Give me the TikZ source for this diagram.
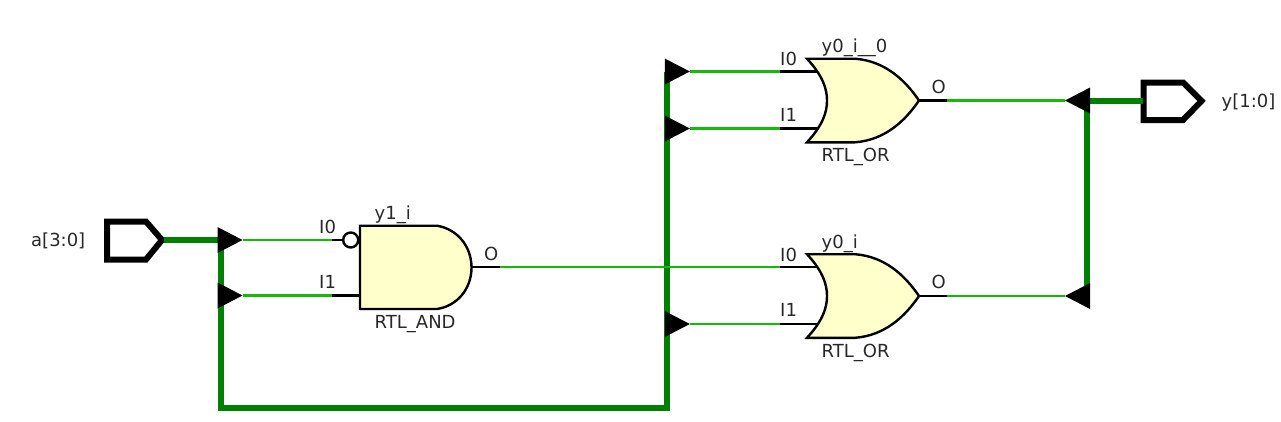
\documentclass[tikz,border=0pt]{standalone}
\usepackage{fontspec}
\setmainfont{DejaVu Sans}
\usetikzlibrary{shapes.geometric}
\definecolor{busGreen}{RGB}{0,128,0}
\definecolor{wireGreen}{RGB}{22,184,10}
\definecolor{gateYellow}{RGB}{255,255,204}
\definecolor{labelGray}{RGB}{40,40,40}

\begin{document}
\begin{tikzpicture}
[x=1pt,y=-1pt,
  busDecorate/.style={-,line width=6pt,color=busGreen},%
  wireDecorate/.style={-,line width=2.2pt,color=wireGreen},
  pinDecorate/.style={-,line width=2.2pt,color=black},
  gateDecorate/.style={line width=2.4pt,draw=black,fill=gateYellow,line join=miter},
  portDecorate/.style={line width=6pt,draw=black,fill=white,line join=miter},
  ripDecorate/.style={shape=isosceles triangle,isosceles triangle stretches,
    minimum width=26pt,minimum height=25pt,inner sep=0pt,outer sep=0pt,fill=black,anchor=lower side},
  textDecorate/.style={anchor=base west,inner sep=0pt,text=labelGray,
    font=\fontsize{18}{20}\selectfont}]
\useasboundingbox (0,0) rectangle (1281,421);
%% or gates
\foreach \gatename/\instname/\dy in {
  orA/y0\_i\_\_0/0,
  orB/y0\_i/195.5}
{
  \begin{scope}[shift={(0,\dy)}]
    \coordinate (\gatename i0) at (780,71.5);
    \coordinate (\gatename i1) at (780,128.5);
    \coordinate (\gatename tip) at (919,100.5);
    \coordinate (\gatename o) at (947,100.5);
    \draw[pinDecorate] (\gatename i0) -- (820,71.5);
    \draw[pinDecorate] (\gatename i1) -- (820,128.5);
    \draw[pinDecorate] (\gatename tip) -- (\gatename o);
    \filldraw[gateDecorate] (807,58.7) -- (855,58.7)
      .. controls (885,61) and (905,80) .. (\gatename tip)
      .. controls (905,121) and (885,140) .. (855,142.3) -- (807,142.3)
      .. controls (823,125) and (827,112) .. (827,100.5)
      .. controls (827,89) and (823,76) .. (807,58.7) -- cycle;
    \node (\gatename lab0) at (780,65.5) [textDecorate] {I0};
    \node (\gatename lab1) at (780,121) [textDecorate] {I1};
    \node (\gatename labo) at (931.5,93) [textDecorate] {O};
    \node (\gatename inst) at (821.5,52.5) [textDecorate] {\instname};
    \node (\gatename type) at (821.5,161.5) [textDecorate] {RTL\_OR};
  \end{scope}
}
%% and gate
\coordinate (andi0) at (332,240);
\coordinate (andi1) at (332,295.5);
\coordinate (ando) at (500,267);
\node (andbub) at (350.7,240) [circle,draw=black,line width=2.4pt,fill=white,minimum size=15pt,inner sep=0pt] {};
\draw[pinDecorate] (andi0) -- (andbub);
\draw[pinDecorate] (andi1) -- (360,295.5);
\draw[pinDecorate] (471,267) -- (ando);
\filldraw[gateDecorate] (360,225.7) -- (437,225.7)
  .. controls (457,229) and (471.5,246) .. (471.5,267.5)
  .. controls (471.5,289) and (457,306) .. (437,309) -- (360,309) -- cycle;
\node (andlab0) at (319,233) [textDecorate] {I0};
\node (andlab1) at (319,288.5) [textDecorate] {I1};
\node (andlabo) at (484,260.5) [textDecorate] {O};
\node (andinst) at (374.5,219.5) [textDecorate] {y1\_i};
\node (andtype) at (374.5,328.5) [textDecorate] {RTL\_AND};
%% ports
\filldraw[portDecorate] (107,221.5) -- (146,221.5) -- (162,240) -- (146,259.5) -- (107,259.5) -- cycle;
\filldraw[portDecorate] (1143.5,82.5) -- (1183,82.5) -- (1201.5,101) -- (1183,120) -- (1143.5,120) -- cycle;
\coordinate (porta) at (164,240);
\coordinate (porty) at (1143,101);
\node (portalab) at (31,246) [textDecorate] {a[3:0]};
\node (portylab) at (1221.5,107) [textDecorate] {y[1:0]};
%% bus corners
\coordinate (busa) at (220.5,240);
\coordinate (busb) at (220.5,408);
\coordinate (busc) at (667,408);
\coordinate (busd) at (667,71.5);
\coordinate (buse) at (1087,101);
\coordinate (busf) at (1087,296);
\draw[busDecorate] (porta) -- (busa) -- (busb) -- (busc) -- (busd);
\draw[busDecorate] (porty) -- (buse) -- (busf);
%% rippers
\foreach \nodename/\x/\y/\turn in {
  ripa/217.5/240/0,
  ripb/217.5/295.5/0,
  ripc/664.8/71.5/0,
  ripd/664.8/128.5/0,
  ripe/664.8/324/0,
  ripf/1090/100.5/180,
  ripg/1090/296/180}
{
  \node (\nodename) at (\x,\y) [ripDecorate,shape border rotate=\turn] {};
}
%% wires
\path
\foreach \startnode/\endnode in {
  ripa.apex/andi0, ripb.apex/andi1, ripc.apex/orAi0, ripd.apex/orAi1,
  ripe.apex/orBi1, ando/orBi0, orAo/ripf.apex, orBo/ripg.apex}
{
  (\startnode) edge[wireDecorate] node {} (\endnode)
};
\end{tikzpicture}
\end{document}
